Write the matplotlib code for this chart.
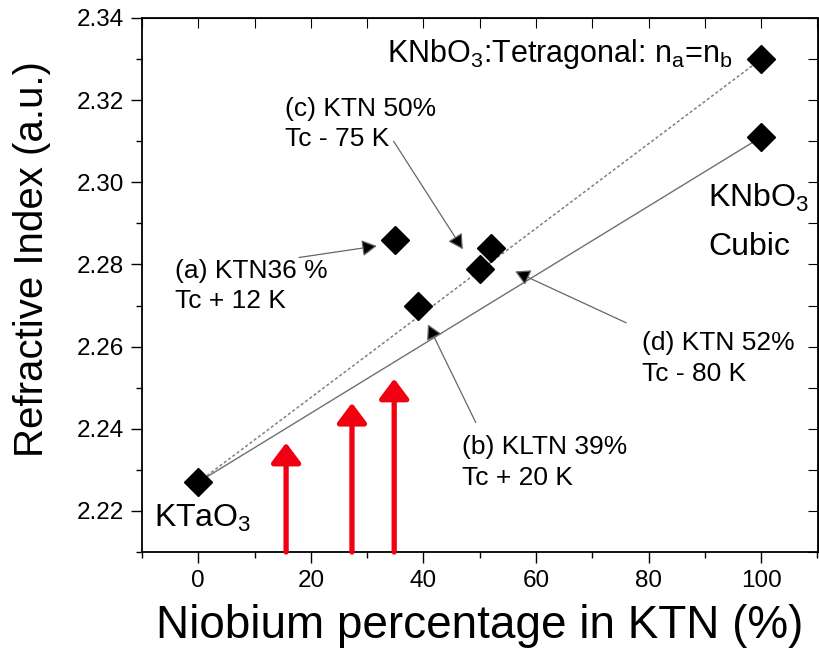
import numpy as np
import matplotlib
matplotlib.use("Agg")
import matplotlib.pyplot as plt
from matplotlib.ticker import MultipleLocator, FormatStrFormatter

plt.rcParams['font.family'] = ['Liberation Sans', 'DejaVu Sans']
plt.rcParams['mathtext.fontset'] = 'custom'
plt.rcParams['mathtext.rm'] = 'Liberation Sans'

# measured points (diamonds)
nb_pct = [0, 35, 39, 50, 52, 100, 100]
n_index = [2.227, 2.286, 2.270, 2.279, 2.284, 2.330, 2.311]

# guide lines KTaO3 -> KNbO3
tetra_x = [0, 100]
tetra_y = [2.227, 2.330]
cubic_x = [0, 100]
cubic_y = [2.227, 2.311]

# red arrows (composition, top of arrow)
red_x = [15.6, 27.3, 34.8]
red_top = [2.2366, 2.2463, 2.2522]
y_bottom = 2.21

# annotation labels: text, text pos (last-line baseline), arrow start, arrow end
ann_text = ["(a) KTN36 %\nTc + 12 K", "(c) KTN 50%\nTc - 75 K",
            "(b) KLTN 39%\nTc + 20 K", "(d) KTN 52%\nTc - 80 K"]
ann_text_xy = [(-4.1, 2.2693), (15.4, 2.3088), (46.8, 2.2263), (78.8, 2.2517)]
ann_start = [(17.9, 2.2817), (34.7, 2.3100), (49.3, 2.2415), (76.0, 2.2658)]
ann_end = [(31.7, 2.2845), (47.0, 2.2837), (40.8, 2.2654), (56.3, 2.2783)]

fig = plt.figure(figsize=(8.19, 6.51), dpi=100)
ax = fig.add_axes([142 / 819, 1 - 552 / 651, (817.5 - 142) / 819, (552 - 18) / 651])

ax.plot(tetra_x, tetra_y, color='#808080', lw=1.1, ls=(0, (2, 1.5)), zorder=2)
ax.plot(cubic_x, cubic_y, color='#707070', lw=1.0, ls='-', zorder=2)
ax.plot(nb_pct, n_index, ls='none', marker='D', ms=14, color='black', zorder=4)

for x, top in zip(red_x, red_top):
    ax.annotate('', xy=(x, top), xytext=(x, y_bottom),
                arrowprops=dict(arrowstyle='-|>,head_length=0.6,head_width=0.45',
                                color='#f00010', lw=3.8, mutation_scale=20,
                                shrinkA=0, shrinkB=0), zorder=3)

for txt, pos, st, en in zip(ann_text, ann_text_xy, ann_start, ann_end):
    ax.text(pos[0], pos[1], txt, fontsize=19, ha='left', va='baseline',
            linespacing=1.35)
    ax.annotate('', xy=en, xytext=st,
                arrowprops=dict(arrowstyle='-|>,head_length=0.45,head_width=0.25',
                                ec='#666666', fc='black', lw=0.9, mutation_scale=20,
                                shrinkA=0, shrinkB=0))

ax.text(33.6, 2.3293, r'KNbO$_3$:Tetragonal: n$_\mathregular{a}$=n$_\mathregular{b}$',
        fontsize=22, ha='left', va='baseline')
ax.text(90.6, 2.2941, r'KNbO$_3$', fontsize=23, ha='left', va='baseline')
ax.text(90.6, 2.2824, 'Cubic', fontsize=23, ha='left', va='baseline')
ax.text(-7.8, 2.2161, r'KTaO$_3$', fontsize=23, ha='left', va='baseline')

ax.set_xlim(-10, 110)
ax.set_ylim(2.21, 2.34)
ax.xaxis.set_major_locator(MultipleLocator(20))
ax.xaxis.set_minor_locator(MultipleLocator(10))
ax.yaxis.set_major_locator(MultipleLocator(0.02))
ax.yaxis.set_minor_locator(MultipleLocator(0.01))
ax.yaxis.set_major_formatter(FormatStrFormatter('%.2f'))
ax.tick_params(which='major', direction='out', length=8, width=1, labelsize=17.5,
               pad=5, top=False, right=False)
ax.tick_params(which='minor', direction='out', length=4, width=1,
               top=False, right=False)

# inward ticks on top and right
axt = ax.secondary_xaxis('top')
axt.xaxis.set_major_locator(MultipleLocator(10))
axt.tick_params(direction='in', length=7, labeltop=False)
axt.set_xticklabels([])
axr = ax.secondary_yaxis('right')
axr.yaxis.set_major_locator(MultipleLocator(0.01))
axr.tick_params(direction='in', length=7, labelright=False)
axr.set_yticklabels([])

for sp in ax.spines.values():
    sp.set_linewidth(1.3)

ax.set_xlabel('Niobium percentage in KTN (%)', fontsize=33, va='baseline')
ax.xaxis.set_label_coords(0.5, (552 - 638) / 534)
ax.set_ylabel('Refractive Index (a.u.)', fontsize=29, va='center')
ax.yaxis.set_label_coords((32 - 142) / 677, (552 - 259) / 534)

fig.savefig('out.png', dpi=100)
